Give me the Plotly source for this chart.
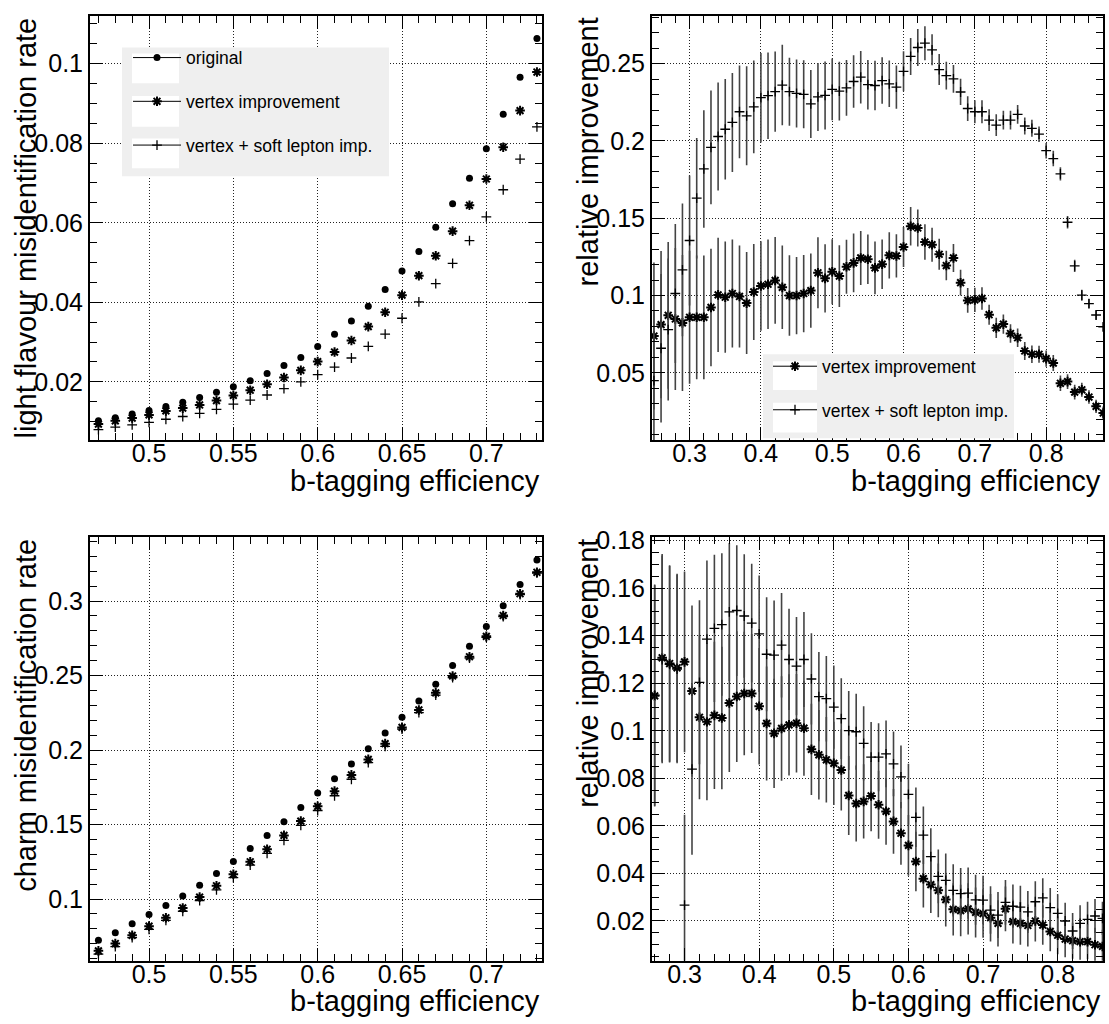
import plotly.graph_objects as go

# ---------------------------------------------------------------------------
# Data: b-tagging working points and mis-identification rates
# ---------------------------------------------------------------------------
eff_misid = [0.47, 0.48, 0.49, 0.50, 0.51, 0.52, 0.53, 0.54, 0.55, 0.56,
             0.57, 0.58, 0.59, 0.60, 0.61, 0.62, 0.63, 0.64, 0.65, 0.66,
             0.67, 0.68, 0.69, 0.70, 0.71, 0.72, 0.73]

light_original = [0.0102, 0.0110, 0.0119, 0.0128, 0.0138, 0.0149, 0.0161, 0.0174, 0.0188,
                  0.0203, 0.0221, 0.0241, 0.0261, 0.0289, 0.0320, 0.0353, 0.0390, 0.0432,
                  0.0479, 0.0528, 0.0589, 0.0648, 0.0712, 0.0786, 0.0873, 0.0966, 0.1063]
light_vertex = [0.0094, 0.0102, 0.0109, 0.0117, 0.0127, 0.0134, 0.0142, 0.0153, 0.0166,
                0.0179, 0.0194, 0.0211, 0.0229, 0.0251, 0.0275, 0.0304, 0.0339, 0.0375,
                0.0418, 0.0467, 0.0517, 0.0579, 0.0644, 0.0710, 0.0790, 0.0882, 0.0979]
light_vertex_sl = [0.0080, 0.0086, 0.0092, 0.0098, 0.0106, 0.0113, 0.0121, 0.0131, 0.0144,
                   0.0154, 0.0167, 0.0183, 0.0200, 0.0218, 0.0237, 0.0260, 0.0289, 0.0320,
                   0.0360, 0.0401, 0.0447, 0.0498, 0.0555, 0.0615, 0.0683, 0.0760, 0.0841]

charm_original = [0.0723, 0.0774, 0.0834, 0.0896, 0.0956, 0.1020, 0.1093, 0.1171, 0.1252,
                  0.1339, 0.1427, 0.1518, 0.1614, 0.1711, 0.1808, 0.1906, 0.2008, 0.2114,
                  0.2220, 0.2329, 0.2442, 0.2568, 0.2697, 0.2829, 0.2969, 0.3111, 0.3275]
charm_vertex = [0.0652, 0.0701, 0.0756, 0.0818, 0.0874, 0.0940, 0.1013, 0.1089, 0.1166,
                0.1250, 0.1334, 0.1427, 0.1523, 0.1622, 0.1724, 0.1833, 0.1937, 0.2043,
                0.2152, 0.2269, 0.2384, 0.2497, 0.2626, 0.2763, 0.2903, 0.3049, 0.3193]
charm_vertex_sl = [0.0630, 0.0681, 0.0741, 0.0796, 0.0856, 0.0918, 0.0989, 0.1062, 0.1144,
                   0.1228, 0.1306, 0.1394, 0.1494, 0.1594, 0.1693, 0.1804, 0.1915, 0.2025,
                   0.2141, 0.2251, 0.2369, 0.2486, 0.2617, 0.2756, 0.2896, 0.3044, 0.3188]

# Relative improvement of the light-flavour rejection
eff_rel_light = [0.25, 0.26, 0.27, 0.28, 0.29, 0.30, 0.31, 0.32, 0.33, 0.34, 0.35, 0.36,
                 0.37, 0.38, 0.39, 0.40, 0.41, 0.42, 0.43, 0.44, 0.45, 0.46, 0.47, 0.48,
                 0.49, 0.50, 0.51, 0.52, 0.53, 0.54, 0.55, 0.56, 0.57, 0.58, 0.59, 0.60,
                 0.61, 0.62, 0.63, 0.64, 0.65, 0.66, 0.67, 0.68, 0.69, 0.70, 0.71, 0.72,
                 0.73, 0.74, 0.75, 0.76, 0.77, 0.78, 0.79, 0.80, 0.81, 0.82, 0.83, 0.84,
                 0.85, 0.86, 0.87, 0.88]
rel_light_vertex = [0.0738, 0.0812, 0.0872, 0.0848, 0.0823, 0.0859, 0.0859, 0.0859, 0.0923,
                    0.1004, 0.0989, 0.1013, 0.0994, 0.0951, 0.1023, 0.1062, 0.1073, 0.1098,
                    0.1053, 0.1000, 0.1000, 0.1013, 0.1032, 0.1147, 0.1111, 0.1154, 0.1126,
                    0.1186, 0.1211, 0.1243, 0.1235, 0.1179, 0.1203, 0.1260, 0.1256, 0.1314,
                    0.1448, 0.1437, 0.1346, 0.1329, 0.1267, 0.1194, 0.1243, 0.1083, 0.0968,
                    0.0972, 0.0981, 0.0876, 0.0791, 0.0815, 0.0754, 0.0727, 0.0641, 0.0620,
                    0.0620, 0.0592, 0.0563, 0.0432, 0.0443, 0.0375, 0.0390, 0.0343, 0.0283,
                    0.0240]
rel_light_vertex_err = [0.0475, 0.0476, 0.0475, 0.046, 0.044, 0.043, 0.040, 0.040, 0.038,
                        0.037, 0.036, 0.035, 0.033, 0.033, 0.031, 0.029, 0.029, 0.028,
                        0.027, 0.026, 0.025, 0.025, 0.024, 0.023, 0.022, 0.021, 0.020,
                        0.0175, 0.019, 0.0175, 0.016, 0.017, 0.016, 0.015, 0.014, 0.013,
                        0.0125, 0.012, 0.0115, 0.011, 0.010, 0.0095, 0.009, 0.0083, 0.008,
                        0.0078, 0.0073, 0.0065, 0.0065, 0.0063, 0.006, 0.006, 0.0058, 0.0056,
                        0.0055, 0.0053, 0.0052, 0.005, 0.0048, 0.0047, 0.0045, 0.0044, 0.0043,
                        0.0042]
rel_light_vertex_sl = [0.045, 0.0659, 0.078, 0.1013, 0.1166, 0.1356, 0.1630, 0.1819, 0.1958,
                       0.2029, 0.2076, 0.2120, 0.2189, 0.2163, 0.2221, 0.2280, 0.2293, 0.2319,
                       0.2362, 0.2319, 0.2308, 0.2302, 0.2240, 0.2285, 0.2295, 0.2334, 0.2323,
                       0.2344, 0.2385, 0.2413, 0.2364, 0.2359, 0.2391, 0.2370, 0.2349, 0.2451,
                       0.2547, 0.2605, 0.2633, 0.2590, 0.2462, 0.2423, 0.2402, 0.2317, 0.2210,
                       0.2189, 0.2189, 0.2135, 0.2103, 0.2135, 0.2135, 0.2172, 0.2097, 0.2082,
                       0.2044, 0.1937, 0.1886, 0.1787, 0.1474, 0.1192, 0.1002, 0.0947, 0.0874,
                       0.0797]
rel_light_vertex_sl_err = [0.045, 0.048, 0.046, 0.045, 0.043, 0.042, 0.039, 0.038, 0.0368,
                           0.035, 0.0325, 0.032, 0.030, 0.032, 0.030, 0.029, 0.028, 0.026,
                           0.026, 0.022, 0.022, 0.022, 0.022, 0.022, 0.022, 0.020, 0.019,
                           0.018, 0.017, 0.017, 0.016, 0.016, 0.015, 0.015, 0.014, 0.013,
                           0.012, 0.012, 0.011, 0.010, 0.010, 0.009, 0.009, 0.0085, 0.008,
                           0.0075, 0.0075, 0.007, 0.007, 0.006, 0.006, 0.006, 0.0055, 0.0055,
                           0.005, 0.005, 0.005, 0.0043, 0.004, 0.004, 0.0035, 0.003, 0.003,
                           0.003]

# Relative improvement of the charm rejection
eff_rel_charm = [0.26, 0.27, 0.28, 0.29, 0.30, 0.31, 0.32, 0.33, 0.34, 0.35, 0.36, 0.37,
                 0.38, 0.39, 0.40, 0.41, 0.42, 0.43, 0.44, 0.45, 0.46, 0.47, 0.48, 0.49,
                 0.50, 0.51, 0.52, 0.53, 0.54, 0.55, 0.56, 0.57, 0.58, 0.59, 0.60, 0.61,
                 0.62, 0.63, 0.64, 0.65, 0.66, 0.67, 0.68, 0.69, 0.70, 0.71, 0.72, 0.73,
                 0.74, 0.75, 0.76, 0.77, 0.78, 0.79, 0.80, 0.81, 0.82, 0.83, 0.84, 0.85,
                 0.86]
rel_charm_vertex = [0.1147, 0.1307, 0.1283, 0.1265, 0.1290, 0.1167, 0.1057, 0.1038, 0.1065,
                    0.1054, 0.1117, 0.1144, 0.1157, 0.1157, 0.1103, 0.1031, 0.0989, 0.1010,
                    0.1025, 0.1032, 0.1011, 0.0922, 0.0899, 0.0878, 0.0863, 0.0835, 0.0728,
                    0.0694, 0.0703, 0.0726, 0.0689, 0.0661, 0.0619, 0.0569, 0.0518, 0.0450,
                    0.0378, 0.0353, 0.0329, 0.0290, 0.0249, 0.0244, 0.0251, 0.0236, 0.0231,
                    0.0214, 0.0190, 0.0251, 0.0197, 0.0190, 0.0181, 0.0200, 0.0183, 0.0156,
                    0.0140, 0.0124, 0.0117, 0.0113, 0.0113, 0.0100, 0.0093]
rel_charm_vertex_sl = [0.1150, 0.1300, 0.1280, 0.1260, 0.0267, 0.0839, 0.1204, 0.1386, 0.1431,
                       0.1447, 0.1500, 0.1506, 0.1483, 0.1453, 0.1408, 0.1322, 0.1318, 0.1360,
                       0.1300, 0.1272, 0.1300, 0.1218, 0.1144, 0.1135, 0.1100, 0.1051, 0.1001,
                       0.0996, 0.0947, 0.0889, 0.0889, 0.0903, 0.0861, 0.0806, 0.0733, 0.0636,
                       0.0561, 0.0471, 0.0388, 0.0371, 0.0329, 0.0315, 0.0317, 0.0289, 0.0288,
                       0.0246, 0.0225, 0.0278, 0.0262, 0.0258, 0.0238, 0.0281, 0.0297, 0.0256,
                       0.0232, 0.0200, 0.0158, 0.0190, 0.0207, 0.0221, 0.0211]
rel_charm_err = [0.0465, 0.0437, 0.0413, 0.0396, 0.0380, 0.036, 0.0345, 0.033, 0.031,
                 0.030, 0.029, 0.0275, 0.026, 0.025, 0.0245, 0.024, 0.023, 0.022,
                 0.0213, 0.0207, 0.020, 0.0192, 0.0188, 0.018, 0.0175, 0.017, 0.0166,
                 0.016, 0.0156, 0.0148, 0.0143, 0.014, 0.0136, 0.0132, 0.0128, 0.0125,
                 0.0121, 0.0119, 0.0113, 0.0113, 0.011, 0.0108, 0.0108, 0.0105, 0.0102,
                 0.010, 0.0097, 0.0094, 0.0092, 0.009, 0.0088, 0.0086, 0.0083, 0.0083,
                 0.008, 0.0077, 0.0076, 0.0076, 0.0074, 0.0072, 0.007]

LABEL_ORIG = "original"
LABEL_VTX = "vertex improvement"
LABEL_VTX_SL = "vertex + soft lepton imp."
TITLE_X = "b-tagging efficiency"

# ---------------------------------------------------------------------------
# Page geometry (pixels) and styling
# ---------------------------------------------------------------------------
W, H = 1109, 1024
FONT = "Liberation Sans, Arial, Helvetica, sans-serif"
BAR_COLOR = "#444444"

# frame boxes: (left, right, top, bottom) in pixels
FRAMES = {
    "tl": (90, 542, 5, 434),
    "tr": (652, 1103, 5, 434),
    "bl": (90, 542, 532, 960),
    "br": (652, 1103, 532, 960),
}


def fx(p):
    return p / W


def fy(p):
    return 1 - p / H


def make_axis(frame, horizontal, rng, dtick, minor_dtick, anchor):
    left, right, top, bottom = FRAMES[frame]
    dom = [fx(left), fx(right)] if horizontal else [fy(bottom), fy(top)]
    return dict(
        domain=dom, anchor=anchor, range=rng,
        tick0=0, dtick=dtick,
        ticks="inside", ticklen=13, tickwidth=1, tickcolor="black",
        minor=dict(ticks="inside", ticklen=7, tickwidth=1, tickcolor="black",
                   tick0=0, dtick=minor_dtick, showgrid=False),
        showline=True, linewidth=2, linecolor="black", mirror="allticks",
        showgrid=True, gridcolor="#222222", griddash="1px,2px", gridwidth=1,
        zeroline=False, fixedrange=True,
        ticklabelstandoff=-10 if horizontal else 0,
        tickfont=dict(family=FONT, size=25, color="black"),
    )


MK_DOT = dict(symbol="circle", size=7, color="black")
MK_STAR = dict(symbol="asterisk-open", size=8, color="black",
               line=dict(width=2, color="black"))
MK_PLUS = dict(symbol="cross-thin-open", size=7, color="black",
               line=dict(width=1.3, color="black"))


def err(arr):
    return dict(type="data", array=arr, visible=True, width=0,
                thickness=1.6, color=BAR_COLOR)


fig = go.Figure()

# --- top left: light flavour mis-identification rate
fig.add_trace(go.Scatter(x=eff_misid, y=light_original, mode="markers", marker=MK_DOT,
                         xaxis="x", yaxis="y", showlegend=False))
fig.add_trace(go.Scatter(x=eff_misid, y=light_vertex, mode="markers", marker=MK_STAR,
                         xaxis="x", yaxis="y", showlegend=False))
fig.add_trace(go.Scatter(x=eff_misid, y=light_vertex_sl, mode="markers", marker=MK_PLUS,
                         xaxis="x", yaxis="y", showlegend=False))

# --- top right: relative improvement, light flavour
fig.add_trace(go.Scatter(x=eff_rel_light, y=rel_light_vertex, mode="markers", marker=MK_STAR,
                         error_y=err(rel_light_vertex_err),
                         xaxis="x2", yaxis="y2", showlegend=False))
fig.add_trace(go.Scatter(x=eff_rel_light, y=rel_light_vertex_sl, mode="markers", marker=MK_PLUS,
                         error_y=err(rel_light_vertex_sl_err),
                         xaxis="x2", yaxis="y2", showlegend=False))

# --- bottom left: charm mis-identification rate
fig.add_trace(go.Scatter(x=eff_misid, y=charm_original, mode="markers", marker=MK_DOT,
                         xaxis="x3", yaxis="y3", showlegend=False))
fig.add_trace(go.Scatter(x=eff_misid, y=charm_vertex, mode="markers", marker=MK_STAR,
                         xaxis="x3", yaxis="y3", showlegend=False))
fig.add_trace(go.Scatter(x=eff_misid, y=charm_vertex_sl, mode="markers", marker=MK_PLUS,
                         xaxis="x3", yaxis="y3", showlegend=False))

# --- bottom right: relative improvement, charm
fig.add_trace(go.Scatter(x=eff_rel_charm, y=rel_charm_vertex, mode="markers", marker=MK_STAR,
                         error_y=err(rel_charm_err),
                         xaxis="x4", yaxis="y4", showlegend=False))
fig.add_trace(go.Scatter(x=eff_rel_charm, y=rel_charm_vertex_sl, mode="markers", marker=MK_PLUS,
                         error_y=err(rel_charm_err),
                         xaxis="x4", yaxis="y4", showlegend=False))

# --- legend keys (line + marker), one legend group each so the row gap can be set
LINE_KEY = dict(color="black", width=1)
for name, mk, grp in [(LABEL_ORIG, MK_DOT, "a"), (LABEL_VTX, MK_STAR, "b"),
                      (LABEL_VTX_SL, MK_PLUS, "c")]:
    fig.add_trace(go.Scatter(x=[None], y=[None], mode="lines+markers", name=name,
                             marker=mk, line=LINE_KEY, xaxis="x", yaxis="y",
                             legend="legend", legendgroup="l1" + grp))
for name, mk, grp in [(LABEL_VTX, MK_STAR, "b"), (LABEL_VTX_SL, MK_PLUS, "c")]:
    fig.add_trace(go.Scatter(x=[None], y=[None], mode="lines+markers", name=name,
                             marker=mk, line=LINE_KEY, xaxis="x2", yaxis="y2",
                             legend="legend2", legendgroup="l2" + grp))

# --- legend panels (grey box with white key boxes)
shapes = []
for (x0, x1, y0, y1) in [(122, 389, 37, 167), (763, 1014, 347, 432)]:
    shapes.append(dict(type="rect", xref="paper", yref="paper", layer="above",
                       x0=fx(x0), x1=fx(x1), y0=fy(y1), y1=fy(y0),
                       fillcolor="#efefef", line=dict(width=0)))
for (x0, x1, y0, y1) in [(132, 179, 43, 73), (132, 179, 86, 117), (132, 179, 129, 159),
                         (773, 817, 354, 383), (773, 817, 396, 426)]:
    shapes.append(dict(type="rect", xref="paper", yref="paper", layer="above",
                       x0=fx(x0), x1=fx(x1), y0=fy(y1), y1=fy(y0),
                       fillcolor="white", line=dict(width=0)))

# --- axis titles (ROOT style: aligned to the end of the axis)
TITLE_FONT = dict(family=FONT, size=29, color="black")
annotations = []
for frame, text in [("tl", "light flavour misidentification rate"),
                    ("tr", "relative improvement"),
                    ("bl", "charm misidentification rate"),
                    ("br", "relative improvement")]:
    left, right, top, bottom = FRAMES[frame]
    annotations.append(dict(text=text, textangle=-90, xref="paper", yref="paper",
                            x=fx(left - 64), y=fy(top), xanchor="center", yanchor="top",
                            showarrow=False, font=TITLE_FONT))
    annotations.append(dict(text=TITLE_X, xref="paper", yref="paper",
                            x=fx(right), y=fy(bottom + 41), xanchor="right", yanchor="middle",
                            showarrow=False, font=TITLE_FONT))

LEGEND_FONT = dict(family=FONT, size=17.5, color="black")

fig.update_layout(
    width=W, height=H,
    margin=dict(l=0, r=0, t=0, b=0),
    paper_bgcolor="white", plot_bgcolor="white",
    font=dict(family=FONT, color="black"),
    xaxis=make_axis("tl", True, [0.465, 0.733], 0.05, 0.01, "y"),
    yaxis=make_axis("tl", False, [0.0053, 0.112], 0.02, 0.005, "x"),
    xaxis2=make_axis("tr", True, [0.2473, 0.8797], 0.1, 0.02, "y2"),
    yaxis2=make_axis("tr", False, [0.0063, 0.2809], 0.05, 0.01, "x2"),
    xaxis3=make_axis("bl", True, [0.465, 0.733], 0.05, 0.01, "y3"),
    yaxis3=make_axis("bl", False, [0.0586, 0.3428], 0.05, 0.01, "x3"),
    xaxis4=make_axis("br", True, [0.2564, 0.8607], 0.1, 0.02, "y4"),
    yaxis4=make_axis("br", False, [0.0033, 0.1814], 0.02, 0.005, "x4"),
    legend=dict(x=fx(128), y=fy(29), xanchor="left", yanchor="top",
                bgcolor="rgba(0,0,0,0)", borderwidth=0, font=LEGEND_FONT,
                itemwidth=48, tracegroupgap=18, traceorder="grouped",
                itemclick=False, itemdoubleclick=False),
    legend2=dict(x=fx(768), y=fy(341), xanchor="left", yanchor="top",
                 bgcolor="rgba(0,0,0,0)", borderwidth=0, font=LEGEND_FONT,
                 itemwidth=44, tracegroupgap=17.8, traceorder="grouped",
                 itemclick=False, itemdoubleclick=False),
    shapes=shapes,
    annotations=annotations,
)

fig.write_html("out.html")
